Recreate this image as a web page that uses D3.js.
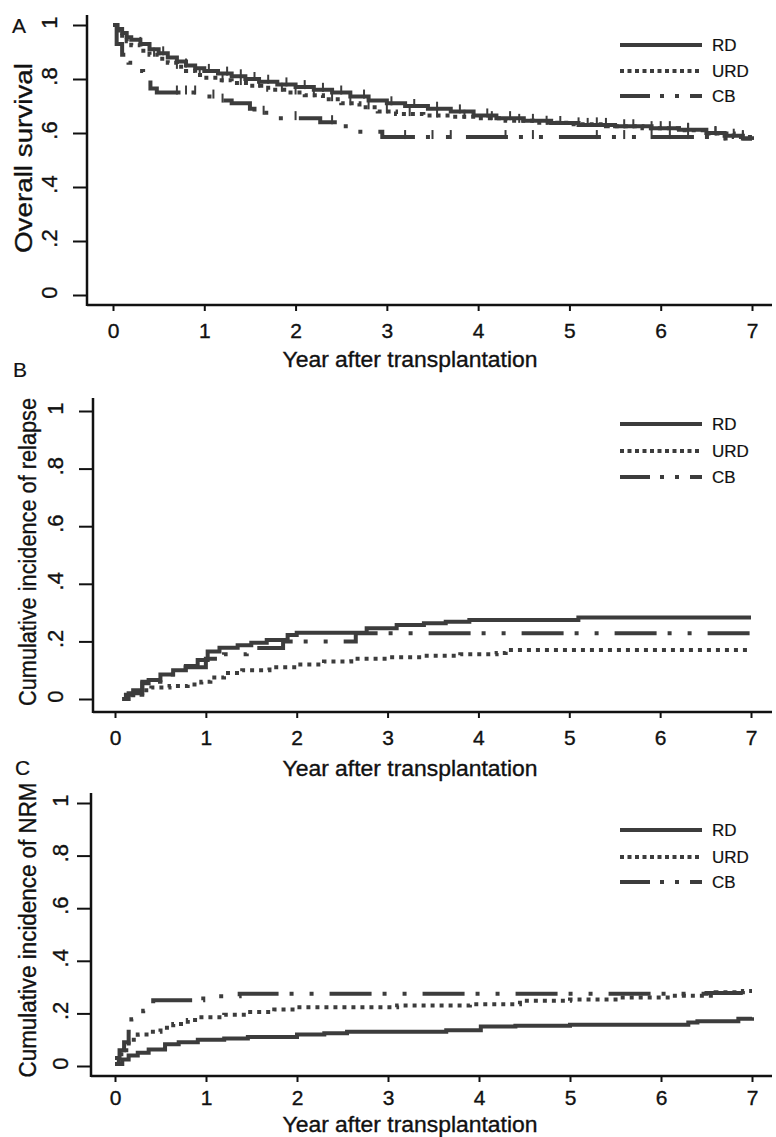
<!DOCTYPE html>
<html>
<head>
<meta charset="utf-8">
<script src="https://cdn.jsdelivr.net/npm/d3@7"></script>
<style>
  body { margin: 0; background: #fff; }
  text { font-family: "Liberation Sans", Arial, sans-serif; fill: #111; stroke: #111; stroke-width: 0.35px; }
</style>
</head>
<body>
<div class="root"></div>
<script>

// ---- data ----
var seriesNames = ['RD', 'URD', 'CB'];
var yearTicks = [0, 1, 2, 3, 4, 5, 6, 7];
var probTicks = [0, 0.2, 0.4, 0.6, 0.8, 1];
var probTickLabels = ['0', '.2', '.4', '.6', '.8', '1'];
var xTitle = 'Year after transplantation';
var yTitles = ['Overall survival', 'Cumulative incidence  of relapse', 'Cumulative incidence of NRM'];
var panelLetters = ['A', 'B', 'C'];

// A: overall survival [year, value]
var osRD = [[0,1.0],[0.05,0.985],[0.1,0.97],[0.15,0.955],[0.2,0.945],[0.3,0.93],[0.4,0.91],[0.5,0.895],[0.6,0.88],[0.7,0.865],[0.8,0.85],[0.9,0.84],[1.0,0.83],[1.15,0.82],[1.3,0.81],[1.45,0.80],[1.6,0.79],[1.8,0.78],[2.0,0.77],[2.2,0.76],[2.4,0.75],[2.6,0.735],[2.8,0.72],[3.0,0.71],[3.2,0.70],[3.45,0.69],[3.7,0.68],[3.95,0.665],[4.2,0.655],[4.5,0.645],[4.8,0.637],[5.1,0.63],[5.5,0.625],[5.9,0.618],[6.2,0.612],[6.5,0.60],[6.7,0.59],[6.9,0.58],[7.0,0.575]];
var osURD = [[0,1.0],[0.05,0.98],[0.1,0.96],[0.15,0.94],[0.2,0.925],[0.3,0.905],[0.4,0.89],[0.5,0.875],[0.6,0.86],[0.7,0.845],[0.8,0.83],[0.9,0.815],[1.0,0.805],[1.15,0.795],[1.3,0.785],[1.5,0.775],[1.7,0.76],[1.9,0.75],[2.1,0.74],[2.3,0.725],[2.5,0.71],[2.7,0.695],[2.9,0.68],[3.1,0.67],[3.4,0.665],[3.7,0.66],[4.0,0.655],[4.3,0.645],[4.6,0.638],[5.0,0.632],[5.4,0.625],[5.8,0.618],[6.2,0.61],[6.5,0.598],[6.8,0.585],[7.0,0.578]];
var osCB = [[0,1.0],[0.04,0.93],[0.1,0.89],[0.17,0.86],[0.26,0.83],[0.33,0.80],[0.41,0.765],[0.48,0.75],[1.0,0.735],[1.15,0.72],[1.3,0.71],[1.5,0.69],[1.55,0.675],[1.75,0.655],[2.27,0.64],[2.5,0.625],[2.6,0.605],[2.95,0.585],[6.6,0.58],[7.0,0.575]];
var osCensRD = [0.3,0.55,0.8,1.05,1.25,1.4,1.55,1.7,1.9,2.1,2.3,2.5,2.75,3.05,3.3,3.55,3.8,4.1,4.35,4.6,4.9,5.2,5.4,5.7,5.9,6.1,6.3,6.6,6.8];
var osCensURD = [0.45,0.7,0.95,1.2,1.4,1.6,1.85,2.0,2.2,2.4,2.6,2.8,3.0,3.25,3.55,3.85,4.15,4.45,4.75,5.1,5.3,5.6,6.0,6.3,6.6,6.9];
var osCensCB = [0.7,0.8,0.9,1.1,1.2,1.65,2.0,2.4,3.2,3.5,3.7,4.3,4.6,5.3,5.6,5.9,6.1,6.3,6.7,6.9];

// B: cumulative incidence of relapse
var relRD = [[0.08,0.0],[0.12,0.015],[0.2,0.03],[0.3,0.055],[0.37,0.066],[0.5,0.085],[0.64,0.10],[0.78,0.115],[0.91,0.135],[1.02,0.165],[1.15,0.178],[1.35,0.187],[1.5,0.195],[1.67,0.205],[1.9,0.222],[2.0,0.23],[2.77,0.246],[3.1,0.257],[3.4,0.263],[3.64,0.268],[3.9,0.274],[5.1,0.283],[7.0,0.283]];
var relURD = [[0.12,0.0],[0.2,0.015],[0.3,0.03],[0.4,0.04],[0.6,0.045],[0.8,0.05],[0.95,0.06],[1.05,0.075],[1.2,0.09],[1.4,0.10],[1.7,0.11],[2.0,0.12],[2.3,0.13],[2.6,0.14],[3.0,0.145],[3.4,0.15],[3.8,0.155],[4.2,0.16],[4.3,0.17],[7.0,0.17]];
var relCB = [[0.08,0.0],[0.15,0.02],[0.3,0.06],[0.5,0.085],[0.75,0.11],[1.0,0.14],[1.2,0.155],[1.45,0.177],[1.85,0.20],[2.65,0.228],[7.0,0.228]];

// C: cumulative incidence of NRM
var nrmRD = [[0,0.008],[0.08,0.025],[0.15,0.04],[0.25,0.05],[0.37,0.063],[0.55,0.083],[0.7,0.09],[0.91,0.10],[1.2,0.105],[1.46,0.11],[2.0,0.12],[2.3,0.125],[2.55,0.13],[3.64,0.136],[4.02,0.15],[4.4,0.153],[5.0,0.157],[6.3,0.165],[6.4,0.17],[6.85,0.18],[7.0,0.185]];
var nrmURD = [[0.02,0.02],[0.07,0.06],[0.15,0.10],[0.25,0.12],[0.37,0.13],[0.5,0.145],[0.64,0.16],[0.8,0.175],[0.91,0.185],[1.2,0.195],[1.46,0.205],[1.75,0.215],[2.0,0.223],[3.1,0.23],[3.9,0.235],[4.45,0.248],[5.0,0.253],[5.55,0.26],[6.1,0.267],[6.6,0.28],[6.9,0.285],[7.0,0.285]];
var nrmCB = [[0,0.03],[0.05,0.06],[0.1,0.09],[0.15,0.13],[0.18,0.178],[0.31,0.21],[0.42,0.25],[0.97,0.265],[1.37,0.275],[6.5,0.278],[6.9,0.285],[7.0,0.285]];

// ---- layout ----
var W = 776, H = 1137;
var svg = d3.select('.root').append('svg').attr('width', W).attr('height', H);

var styles = {
  RD:  { dash: null, width: 4, legendDash: null },
  URD: { dash: '4,5', width: 4, legendDash: '4,3.5' },
  CB:  { dash: '42,11,4,16,4,16', width: 4, legendDash: '30,10,4,11,4,11,12' }
};
var lineColor = '#3c3c3c';

var panels = [
  { series: [osRD, osURD, osCB], cens: [osCensRD, osCensURD, osCensCB],
    xr: [113, 752], yr: [295, 25], axisX: 87, top: 15, axisY: 305,
    yLab: 49, yTitleX: 24, yTitleY: 158, yTitleLen: 190,
    xTickBase: 338, xTitleBase: 367, letter: [12, 33], legendY: [45, 71, 96] },
  { series: [relRD, relURD, relCB], cens: [[], [], []],
    xr: [115, 751], yr: [699, 411], axisX: 93, top: 398, axisY: 712,
    yLab: 55, yTitleX: 28, yTitleY: 552, yTitleLen: 308,
    xTickBase: 745, xTitleBase: 776, letter: [13, 377], legendY: [424, 451, 477] },
  { series: [nrmRD, nrmURD, nrmCB], cens: [[], [], []],
    xr: [115, 752], yr: [1066, 803], axisX: 91, top: 793, axisY: 1076,
    yLab: 60, yTitleX: 28, yTitleY: 930, yTitleLen: 295,
    xTickBase: 1105, xTitleBase: 1132, letter: [15, 775], legendY: [830, 857, 882] }
];

var legendX1 = 620, legendX2 = 702, legendTextX = 712, right = 772;

panels.forEach(function (p, pi) {
  var x = d3.scaleLinear().domain([0, 7]).range(p.xr);
  var y = d3.scaleLinear().domain([0, 1]).range(p.yr);
  var g = svg.append('g');

  // axes
  var yAxis = d3.axisLeft(y).tickValues(probTicks).tickSize(14).tickSizeOuter(0)
                .tickFormat(function (d, i) { return probTickLabels[i]; });
  var ya = g.append('g').attr('transform', 'translate(' + p.axisX + ',0)').call(yAxis);
  ya.select('.domain').remove();
  ya.selectAll('line').attr('stroke', '#111').attr('stroke-width', 2);
  ya.selectAll('text')
    .attr('x', null).attr('dy', null)
    .attr('text-anchor', 'middle')
    .style('font-size', '22px')
    .attr('transform', 'translate(' + (-(p.axisX - p.yLab) + 8) + ',-3) rotate(-90)');

  var xAxis = d3.axisBottom(x).tickValues(yearTicks).tickSize(6).tickSizeOuter(0)
                .tickFormat(d3.format('d'));
  var xa = g.append('g').attr('transform', 'translate(0,' + p.axisY + ')').call(xAxis);
  xa.select('.domain').remove();
  xa.selectAll('line').attr('stroke', '#111').attr('stroke-width', 2);
  xa.selectAll('text')
    .attr('y', p.xTickBase - p.axisY).attr('dy', 0)
    .style('font-size', '21px');

  g.append('line').attr('x1', p.axisX).attr('x2', p.axisX).attr('y1', p.top).attr('y2', p.axisY + 1)
    .attr('stroke', '#111').attr('stroke-width', 2.5);
  g.append('line').attr('x1', p.axisX).attr('x2', right).attr('y1', p.axisY).attr('y2', p.axisY)
    .attr('stroke', '#111').attr('stroke-width', 2.5);

  // titles
  g.append('text').text(yTitles[pi])
    .attr('transform', 'translate(' + (p.yTitleX + 8) + ',' + p.yTitleY + ') rotate(-90)')
    .attr('text-anchor', 'middle').style('font-size', '23px')
    .attr('textLength', p.yTitleLen).attr('lengthAdjust', 'spacingAndGlyphs');
  g.append('text').text(xTitle)
    .attr('x', 410).attr('y', p.xTitleBase)
    .attr('text-anchor', 'middle').style('font-size', '22px')
    .attr('textLength', 255).attr('lengthAdjust', 'spacingAndGlyphs');
  g.append('text').text(panelLetters[pi])
    .attr('x', p.letter[0]).attr('y', p.letter[1]).style('font-size', '21px')
    .style('stroke-width', '0.2px');

  // curves
  var line = d3.line().curve(d3.curveStepAfter)
               .x(function (d) { return x(d[0]); })
               .y(function (d) { return y(d[1]); });

  p.series.forEach(function (data, si) {
    var st = styles[seriesNames[si]];
    g.append('path').datum(data)
      .attr('d', line)
      .attr('fill', 'none')
      .attr('stroke', lineColor)
      .attr('stroke-width', st.width)
      .attr('stroke-dasharray', st.dash);

    // censor marks
    var step = function (t) {
      var v = data[0][1];
      data.forEach(function (d) { if (d[0] <= t) v = d[1]; });
      return v;
    };
    g.selectAll(null).data(p.cens[si]).enter().append('line')
      .attr('x1', function (t) { return x(t); })
      .attr('x2', function (t) { return x(t); })
      .attr('y1', function (t) { return y(step(t)) + 2; })
      .attr('y2', function (t) { return y(step(t)) - 7; })
      .attr('stroke', lineColor).attr('stroke-width', 2);

    // legend
    g.append('line')
      .attr('x1', legendX1).attr('x2', legendX2)
      .attr('y1', p.legendY[si]).attr('y2', p.legendY[si])
      .attr('stroke', lineColor).attr('stroke-width', st.width)
      .attr('stroke-dasharray', st.legendDash);
    g.append('text').text(seriesNames[si])
      .attr('x', legendTextX).attr('y', p.legendY[si] + 6)
      .style('font-size', '17px').style('stroke-width', '0.2px');
  });
});

</script>
</body>
</html>
